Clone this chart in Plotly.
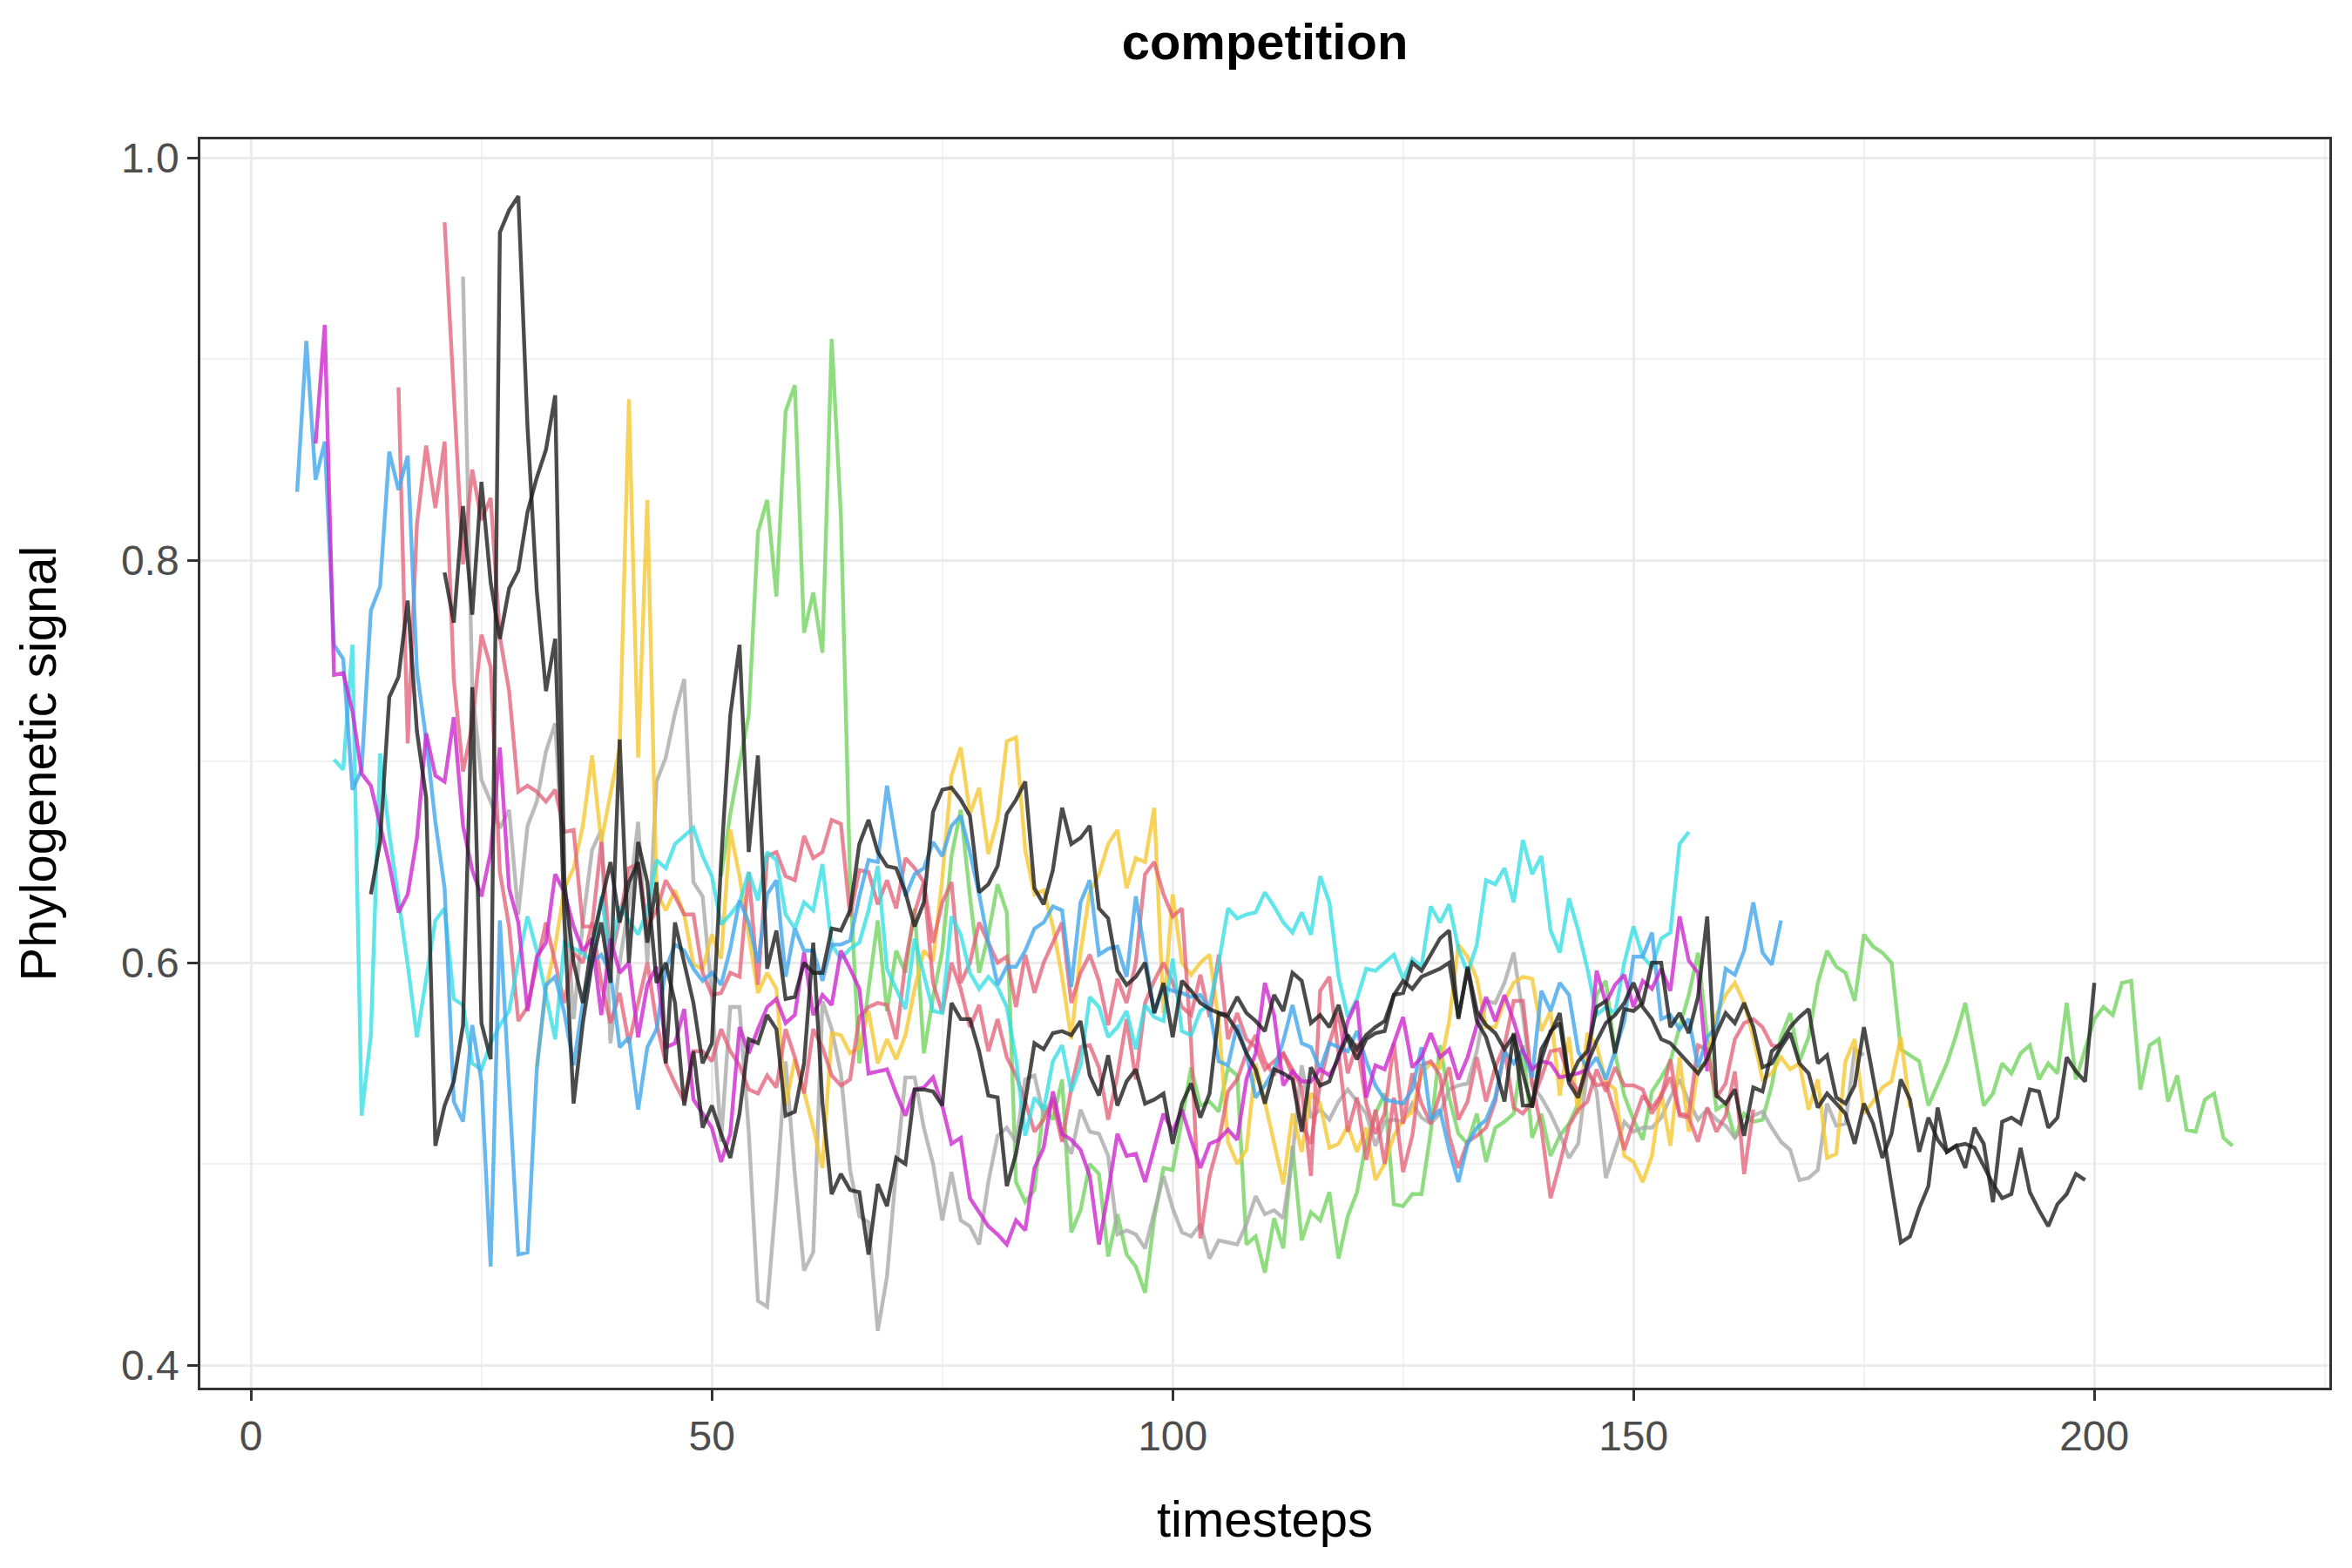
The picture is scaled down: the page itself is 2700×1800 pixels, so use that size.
import plotly.graph_objects as go

# phylogenetic signal per timestep, one run per list (first timestep in *_start)
blue_start = 5
blue = [0.834, 0.909, 0.840, 0.859, 0.758, 0.751, 0.686, 0.696, 0.775, 0.787,
        0.854, 0.835, 0.852, 0.745, 0.711, 0.670, 0.637, 0.531, 0.521, 0.569,
        0.541, 0.449, 0.621, 0.535, 0.455, 0.456, 0.547, 0.589, 0.593, 0.575,
        0.549, 0.580, 0.600, 0.604, 0.595, 0.558, 0.563, 0.527, 0.558, 0.567,
        0.597, 0.609, 0.606, 0.597, 0.591, 0.595, 0.589, 0.607, 0.631, 0.620,
        0.600, 0.634, 0.641, 0.593, 0.617, 0.606, 0.606, 0.591, 0.609, 0.609,
        0.611, 0.633, 0.651, 0.650, 0.688, 0.660, 0.633, 0.644, 0.647, 0.660,
        0.653, 0.668, 0.673, 0.655, 0.634, 0.610, 0.589, 0.598, 0.598, 0.606,
        0.617, 0.620, 0.628, 0.626, 0.588, 0.630, 0.641, 0.604, 0.607, 0.608,
        0.593, 0.633, 0.604, 0.575, 0.588, 0.586, 0.585, 0.583, 0.584, 0.577,
        0.551, 0.549, 0.569, 0.555, 0.533, 0.539, 0.547, 0.561, 0.579, 0.560,
        0.558, 0.547, 0.560, 0.558, 0.556, 0.566, 0.551, 0.539, 0.532, 0.531,
        0.530, 0.537, 0.558, 0.522, 0.527, 0.507, 0.491, 0.510, 0.518, 0.522,
        0.533, 0.556, 0.550, 0.557, 0.543, 0.586, 0.576, 0.590, 0.584, 0.556,
        0.547, 0.553, 0.542, 0.556, 0.571, 0.603, 0.603, 0.615, 0.572, 0.574,
        0.567, 0.572, 0.548, 0.563, 0.568, 0.597, 0.594, 0.606, 0.630, 0.605,
        0.599, 0.621]

magenta_start = 7
magenta = [0.858, 0.917, 0.743, 0.744, 0.725, 0.694, 0.688, 0.669, 0.649, 0.625,
           0.634, 0.662, 0.714, 0.693, 0.690, 0.722, 0.668, 0.646, 0.633, 0.655,
           0.707, 0.637, 0.620, 0.576, 0.603, 0.610, 0.644, 0.635, 0.618, 0.606,
           0.612, 0.574, 0.612, 0.595, 0.600, 0.563, 0.589, 0.598, 0.558, 0.560,
           0.577, 0.532, 0.525, 0.518, 0.501, 0.515, 0.568, 0.555, 0.567, 0.578,
           0.582, 0.570, 0.574, 0.605, 0.574, 0.584, 0.579, 0.606, 0.597, 0.587,
           0.545, 0.546, 0.547, 0.535, 0.524, 0.537, 0.538, 0.543, 0.529, 0.510,
           0.513, 0.483, 0.476, 0.469, 0.465, 0.460, 0.472, 0.467, 0.498, 0.508,
           0.536, 0.515, 0.512, 0.507, 0.494, 0.460, 0.486, 0.515, 0.504, 0.505,
           0.491, 0.508, 0.525, 0.516, 0.527, 0.512, 0.498, 0.510, 0.512, 0.517,
           0.512, 0.542, 0.555, 0.590, 0.574, 0.539, 0.546, 0.541, 0.541, 0.547,
           0.544, 0.552, 0.571, 0.581, 0.533, 0.549, 0.547, 0.560, 0.573, 0.548,
           0.553, 0.565, 0.553, 0.557, 0.542, 0.553, 0.569, 0.583, 0.571, 0.584,
           0.571, 0.556, 0.547, 0.551, 0.550, 0.543, 0.544, 0.545, 0.547, 0.596,
           0.580, 0.589, 0.594, 0.578, 0.591, 0.587, 0.597, 0.586, 0.623, 0.601,
           0.595, 0.546]

cyan_start = 9
cyan = [0.701, 0.696, 0.758, 0.524, 0.564, 0.704, 0.664, 0.633, 0.599, 0.563,
        0.593, 0.621, 0.627, 0.582, 0.579, 0.550, 0.547, 0.560, 0.569, 0.576,
        0.601, 0.623, 0.606, 0.585, 0.562, 0.610, 0.607, 0.605, 0.600, 0.633,
        0.603, 0.628, 0.621, 0.614, 0.626, 0.651, 0.647, 0.659, 0.663, 0.667,
        0.653, 0.643, 0.619, 0.624, 0.630, 0.645, 0.631, 0.655, 0.651, 0.624,
        0.617, 0.630, 0.626, 0.649, 0.609, 0.602, 0.607, 0.610, 0.626, 0.648,
        0.597, 0.587, 0.577, 0.612, 0.594, 0.576, 0.575, 0.623, 0.614, 0.595,
        0.587, 0.593, 0.588, 0.578, 0.552, 0.514, 0.533, 0.527, 0.551, 0.559,
        0.536, 0.549, 0.583, 0.578, 0.563, 0.568, 0.576, 0.557, 0.579, 0.573,
        0.571, 0.602, 0.566, 0.564, 0.576, 0.579, 0.600, 0.627, 0.622, 0.624,
        0.625, 0.635, 0.628, 0.620, 0.615, 0.625, 0.614, 0.643, 0.630, 0.593,
        0.573, 0.582, 0.597, 0.596, 0.600, 0.604, 0.592, 0.602, 0.598, 0.628,
        0.620, 0.629, 0.607, 0.595, 0.609, 0.641, 0.639, 0.647, 0.630, 0.661,
        0.644, 0.653, 0.616, 0.605, 0.632, 0.616, 0.597, 0.574, 0.578, 0.575,
        0.600, 0.618, 0.603, 0.598, 0.612, 0.615, 0.659, 0.665]

pink_a_start = 16
pink_a = [0.886, 0.709, 0.818, 0.857, 0.826, 0.859, 0.741, 0.695, 0.718, 0.763,
          0.747, 0.645, 0.618, 0.571, 0.578, 0.600, 0.620, 0.600, 0.580, 0.605,
          0.600, 0.620, 0.590, 0.570, 0.585, 0.560, 0.580, 0.600, 0.570, 0.550,
          0.540, 0.531, 0.556, 0.556, 0.551, 0.567, 0.556, 0.549, 0.537, 0.535,
          0.544, 0.538, 0.567, 0.553, 0.535, 0.567, 0.558, 0.544, 0.539, 0.542,
          0.573, 0.578, 0.580, 0.579, 0.562, 0.600, 0.625, 0.640, 0.610, 0.630,
          0.640, 0.590, 0.600, 0.620, 0.610, 0.600, 0.603, 0.578, 0.604, 0.585,
          0.600, 0.610, 0.620, 0.580, 0.595, 0.604, 0.591, 0.569, 0.592, 0.580,
          0.600, 0.644, 0.650, 0.634, 0.623, 0.627, 0.560, 0.463, 0.494, 0.511,
          0.536, 0.542, 0.555, 0.564, 0.551, 0.544, 0.555, 0.547, 0.538, 0.494,
          0.586, 0.593, 0.555, 0.516, 0.533, 0.502, 0.527, 0.500, 0.533, 0.496,
          0.514, 0.549, 0.551, 0.544, 0.514, 0.498, 0.511, 0.514, 0.518, 0.531,
          0.557, 0.528, 0.525, 0.531, 0.543, 0.556, 0.557, 0.543, 0.536, 0.546,
          0.539, 0.540, 0.525, 0.507, 0.521, 0.534, 0.528, 0.534, 0.543, 0.525,
          0.524, 0.559, 0.557, 0.533, 0.540, 0.562, 0.570, 0.572, 0.568, 0.559,
          0.558]

pink_b_start = 21
pink_b = [0.968, 0.880, 0.798, 0.845, 0.820, 0.831, 0.762, 0.735, 0.685, 0.688,
          0.685, 0.680, 0.686, 0.665, 0.666, 0.618, 0.618, 0.660, 0.601, 0.622,
          0.647, 0.649, 0.618, 0.626, 0.641, 0.633, 0.624, 0.624, 0.595, 0.584,
          0.585, 0.595, 0.593, 0.645, 0.589, 0.653, 0.655, 0.643, 0.641, 0.663,
          0.652, 0.655, 0.671, 0.669, 0.623, 0.646, 0.645, 0.629, 0.641, 0.627,
          0.652, 0.647, 0.640, 0.590, 0.575, 0.600, 0.587, 0.568, 0.579, 0.556,
          0.572, 0.553, 0.544, 0.531, 0.516, 0.522, 0.531, 0.511, 0.538, 0.558,
          0.559, 0.548, 0.522, 0.544, 0.572, 0.542, 0.580, 0.591, 0.600, 0.590,
          0.578, 0.574, 0.594, 0.573, 0.604, 0.562, 0.575, 0.562, 0.558, 0.547,
          0.551, 0.555, 0.544, 0.520, 0.510, 0.540, 0.560, 0.575, 0.545, 0.560,
          0.530, 0.515, 0.525, 0.560, 0.520, 0.545, 0.530, 0.520, 0.535, 0.548,
          0.522, 0.531, 0.553, 0.531, 0.548, 0.559, 0.581, 0.581, 0.540, 0.518,
          0.483, 0.500, 0.519, 0.527, 0.531, 0.547, 0.536, 0.548, 0.539, 0.539,
          0.537, 0.525, 0.533, 0.552, 0.524, 0.523, 0.511, 0.528, 0.516, 0.524,
          0.546, 0.495, 0.527]

gray_start = 23
gray = [0.941, 0.737, 0.691, 0.680, 0.667, 0.676, 0.624, 0.668, 0.680, 0.705,
        0.719, 0.640, 0.572, 0.620, 0.656, 0.666, 0.560, 0.600, 0.630, 0.670,
        0.600, 0.690, 0.702, 0.724, 0.741, 0.640, 0.633, 0.584, 0.511, 0.578,
        0.578, 0.516, 0.432, 0.429, 0.485, 0.551, 0.495, 0.447, 0.456, 0.581,
        0.567, 0.545, 0.497, 0.474, 0.471, 0.417, 0.444, 0.497, 0.543, 0.543,
        0.518, 0.500, 0.472, 0.496, 0.472, 0.469, 0.460, 0.491, 0.514, 0.518,
        0.511, 0.542, 0.544, 0.524, 0.533, 0.514, 0.505, 0.527, 0.516, 0.515,
        0.504, 0.465, 0.467, 0.465, 0.458, 0.476, 0.494, 0.478, 0.466, 0.464,
        0.470, 0.453, 0.462, 0.461, 0.460, 0.470, 0.484, 0.475, 0.477, 0.473,
        0.504, 0.549, 0.523, 0.527, 0.522, 0.531, 0.537, 0.531, 0.525, 0.509,
        0.521, 0.522, 0.521, 0.530, 0.523, 0.520, 0.525, 0.537, 0.539, 0.540,
        0.556, 0.581, 0.580, 0.590, 0.605, 0.574, 0.539, 0.533, 0.525, 0.515,
        0.503, 0.510, 0.547, 0.536, 0.493, 0.507, 0.521, 0.516, 0.518, 0.518,
        0.523, 0.533, 0.542, 0.531, 0.522, 0.527, 0.522, 0.519, 0.513, 0.519,
        0.524, 0.526, 0.518, 0.511, 0.507, 0.492, 0.493, 0.497, 0.530, 0.519,
        0.520, 0.557, 0.554]

yellow_start = 31
yellow = [0.548, 0.587, 0.608, 0.637, 0.647, 0.668, 0.703, 0.660, 0.684, 0.707,
          0.880, 0.702, 0.830, 0.635, 0.626, 0.636, 0.624, 0.599, 0.597, 0.614,
          0.602, 0.666, 0.643, 0.614, 0.585, 0.595, 0.587, 0.529, 0.552, 0.536,
          0.518, 0.498, 0.565, 0.564, 0.555, 0.558, 0.576, 0.550, 0.562, 0.552,
          0.564, 0.587, 0.606, 0.601, 0.642, 0.693, 0.707, 0.674, 0.687, 0.654,
          0.671, 0.710, 0.712, 0.656, 0.634, 0.636, 0.618, 0.593, 0.562, 0.605,
          0.635, 0.644, 0.659, 0.666, 0.637, 0.652, 0.650, 0.677, 0.575, 0.634,
          0.600, 0.594, 0.600, 0.604, 0.571, 0.511, 0.500, 0.507, 0.550, 0.531,
          0.510, 0.490, 0.525, 0.506, 0.535, 0.530, 0.508, 0.510, 0.519, 0.506,
          0.518, 0.492, 0.500, 0.514, 0.522, 0.526, 0.545, 0.550, 0.548, 0.571,
          0.609, 0.603, 0.592, 0.568, 0.568, 0.581, 0.590, 0.593, 0.592, 0.566,
          0.576, 0.534, 0.563, 0.525, 0.565, 0.559, 0.541, 0.537, 0.504, 0.501,
          0.491, 0.504, 0.536, 0.509, 0.553, 0.516, 0.548, 0.550, 0.574, 0.584,
          0.590, 0.580, 0.563, 0.542, 0.545, 0.553, 0.547, 0.550, 0.527, 0.542,
          0.503, 0.505, 0.551, 0.562, 0.525, 0.531, 0.538, 0.541, 0.563, 0.528]

green_start = 51
green = [0.643, 0.674, 0.699, 0.723, 0.814, 0.830, 0.782, 0.874, 0.887, 0.764,
         0.784, 0.754, 0.910, 0.822, 0.640, 0.550, 0.587, 0.621, 0.576, 0.606,
         0.595, 0.627, 0.555, 0.583, 0.606, 0.653, 0.676, 0.633, 0.595, 0.614,
         0.639, 0.625, 0.491, 0.481, 0.487, 0.529, 0.522, 0.542, 0.466, 0.477,
         0.500, 0.495, 0.454, 0.475, 0.455, 0.449, 0.436, 0.473, 0.498, 0.497,
         0.522, 0.548, 0.529, 0.531, 0.526, 0.548, 0.544, 0.460, 0.464, 0.446,
         0.473, 0.458, 0.509, 0.462, 0.476, 0.472, 0.486, 0.453, 0.474, 0.486,
         0.511, 0.525, 0.535, 0.480, 0.479, 0.485, 0.485, 0.516, 0.559, 0.533,
         0.515, 0.510, 0.525, 0.501, 0.518, 0.521, 0.525, 0.559, 0.513, 0.525,
         0.504, 0.514, 0.520, 0.530, 0.547, 0.584, 0.591, 0.555, 0.534, 0.522,
         0.512, 0.536, 0.543, 0.551, 0.568, 0.584, 0.605, 0.563, 0.527, 0.530,
         0.513, 0.525, 0.521, 0.522, 0.539, 0.563, 0.575, 0.551, 0.563, 0.590,
         0.606, 0.598, 0.595, 0.581, 0.614, 0.608, 0.605, 0.600, 0.557, 0.554,
         0.551, 0.529, 0.539, 0.550, 0.564, 0.580, 0.555, 0.529, 0.535, 0.550,
         0.545, 0.555, 0.559, 0.542, 0.550, 0.545, 0.580, 0.542, 0.557, 0.572,
         0.578, 0.574, 0.590, 0.591, 0.537, 0.559, 0.562, 0.531, 0.544, 0.517,
         0.516, 0.532, 0.535, 0.513, 0.509]

black_a_start = 13
black_a = [0.634, 0.660, 0.732, 0.742, 0.780, 0.715, 0.682, 0.509, 0.529, 0.541,
           0.569, 0.737, 0.570, 0.552, 0.963, 0.974, 0.981, 0.866, 0.785, 0.735,
           0.761, 0.620, 0.530, 0.570, 0.600, 0.620, 0.590, 0.711, 0.600, 0.660,
           0.640, 0.590, 0.600, 0.580, 0.529, 0.556, 0.518, 0.529, 0.515, 0.503,
           0.525, 0.562, 0.560, 0.574, 0.567, 0.524, 0.526, 0.550, 0.610, 0.530,
           0.485, 0.495, 0.487, 0.486, 0.455, 0.490, 0.479, 0.503, 0.500, 0.537,
           0.537, 0.536, 0.529, 0.580, 0.572, 0.572, 0.556, 0.534, 0.533, 0.489,
           0.505, 0.531, 0.560, 0.557, 0.565, 0.566, 0.564, 0.571, 0.544, 0.534,
           0.554, 0.529, 0.541, 0.547, 0.530, 0.532, 0.535, 0.510, 0.530, 0.540,
           0.523, 0.535, 0.575, 0.573, 0.566, 0.555, 0.547, 0.530, 0.547, 0.545,
           0.542, 0.516, 0.548, 0.539, 0.541, 0.554, 0.564, 0.557, 0.564, 0.568,
           0.571, 0.584, 0.591, 0.587, 0.593, 0.595, 0.597, 0.600, 0.573, 0.597,
           0.571, 0.563, 0.548, 0.531, 0.565, 0.545, 0.528, 0.552, 0.566, 0.570,
           0.540, 0.533, 0.550, 0.561, 0.570, 0.574, 0.580, 0.590, 0.578, 0.572,
           0.562, 0.560, 0.555, 0.550, 0.545, 0.552, 0.565, 0.575, 0.570, 0.580,
           0.568, 0.548, 0.550, 0.558, 0.565, 0.550, 0.545, 0.528, 0.535, 0.530,
           0.525, 0.510, 0.530, 0.520, 0.503, 0.515, 0.542, 0.532, 0.506, 0.523,
           0.512, 0.506, 0.509, 0.510, 0.508, 0.499, 0.490, 0.483, 0.485, 0.508,
           0.486, 0.477, 0.469, 0.480, 0.485, 0.495, 0.492]

black_b_start = 21
black_b = [0.794, 0.769, 0.827, 0.773, 0.839, 0.789, 0.761, 0.786, 0.795, 0.824,
           0.841, 0.855, 0.882, 0.640, 0.600, 0.580, 0.610, 0.630, 0.650, 0.620,
           0.640, 0.650, 0.610, 0.640, 0.550, 0.620, 0.600, 0.580, 0.550, 0.560,
           0.650, 0.723, 0.758, 0.655, 0.703, 0.597, 0.616, 0.582, 0.583, 0.600,
           0.595, 0.595, 0.617, 0.616, 0.626, 0.659, 0.671, 0.655, 0.648, 0.647,
           0.635, 0.618, 0.630, 0.675, 0.686, 0.687, 0.681, 0.673, 0.635, 0.639,
           0.648, 0.674, 0.681, 0.690, 0.637, 0.629, 0.646, 0.677, 0.659, 0.662,
           0.668, 0.627, 0.622, 0.596, 0.589, 0.593, 0.600, 0.575, 0.590, 0.563,
           0.591, 0.586, 0.580, 0.577, 0.575, 0.574, 0.583, 0.575, 0.571, 0.566,
           0.584, 0.576, 0.595, 0.591, 0.570, 0.574, 0.568, 0.579, 0.562, 0.552,
           0.562, 0.565, 0.566, 0.584, 0.585, 0.600, 0.596, 0.604, 0.612, 0.616,
           0.572, 0.598, 0.576, 0.569, 0.565, 0.557, 0.564, 0.529, 0.529, 0.557,
           0.565, 0.575, 0.541, 0.551, 0.556, 0.578, 0.581, 0.555, 0.577, 0.576,
           0.580, 0.600, 0.600, 0.568, 0.575, 0.565, 0.583, 0.623, 0.534, 0.530,
           0.537, 0.514, 0.538, 0.536, 0.556, 0.560, 0.568, 0.573, 0.577, 0.550,
           0.554, 0.533, 0.530, 0.539, 0.568, 0.543, 0.518, 0.489, 0.461, 0.464,
           0.478, 0.489, 0.528, 0.506, 0.509, 0.498, 0.518, 0.510, 0.481, 0.521,
           0.523, 0.520, 0.537, 0.536, 0.518, 0.523, 0.553, 0.546, 0.541, 0.590]

runs = [
    (green_start, green, "rgba(112,212,92,0.78)"),
    (gray_start, gray, "rgba(168,168,168,0.78)"),
    (yellow_start, yellow, "rgba(245,200,50,0.8)"),
    (pink_a_start, pink_a, "rgba(225,92,115,0.75)"),
    (pink_b_start, pink_b, "rgba(225,92,115,0.75)"),
    (cyan_start, cyan, "rgba(50,222,228,0.78)"),
    (blue_start, blue, "rgba(70,168,235,0.82)"),
    (magenta_start, magenta, "rgba(205,40,205,0.8)"),
    (black_a_start, black_a, "rgba(30,30,30,0.8)"),
    (black_b_start, black_b, "rgba(30,30,30,0.8)"),
]

fig = go.Figure()
for start, vals, col in runs:
    fig.add_trace(go.Scatter(
        x=list(range(start, start + len(vals))),
        y=vals,
        mode="lines",
        line=dict(color=col, width=4.4),
        showlegend=False,
        hoverinfo="skip",
    ))

axis_common = dict(
    showline=True, mirror=True, linecolor="#333333", linewidth=2.5,
    ticks="outside", ticklen=12, tickwidth=2.5, tickcolor="#333333",
    tickfont=dict(family="Liberation Sans, Arial", size=48, color="#4D4D4D"),
    showgrid=True, gridcolor="#EBEBEB", gridwidth=3, zeroline=False,
)

fig.update_xaxes(
    range=[-5.5, 225.5], tickvals=[0, 50, 100, 150, 200],
    minor=dict(tickvals=[25, 75, 125, 175, 225], showgrid=True,
               gridcolor="#F2F2F2", gridwidth=1.5, ticks=""),
    title=dict(text="timesteps", standoff=50,
               font=dict(family="Liberation Sans, Arial", size=58, color="black")),
    **axis_common,
)
fig.update_yaxes(
    range=[0.3888, 1.0092], tickvals=[0.4, 0.6, 0.8, 1.0], ticktext=["0.4", "0.6", "0.8", "1.0"],
    minor=dict(tickvals=[0.5, 0.7, 0.9], showgrid=True,
               gridcolor="#F2F2F2", gridwidth=1.5, ticks=""),
    title=dict(text="Phylogenetic signal", standoff=56,
               font=dict(family="Liberation Sans, Arial", size=58, color="black")),
    **axis_common,
)

# the page body adds an 8px margin, so the figure is drawn 16px smaller
fig.update_layout(
    width=2684, height=1784,
    paper_bgcolor="white", plot_bgcolor="white",
    margin=dict(l=222, r=18, t=152, b=199),
    title=dict(text="<b>competition</b>", x=0.5, xref="paper", xanchor="center",
               y=1 - 40 / 1784, yref="container", yanchor="middle",
               font=dict(family="Liberation Sans, Arial", size=58, color="black")),
    hovermode=False,
)

fig.write_html("out.html")
